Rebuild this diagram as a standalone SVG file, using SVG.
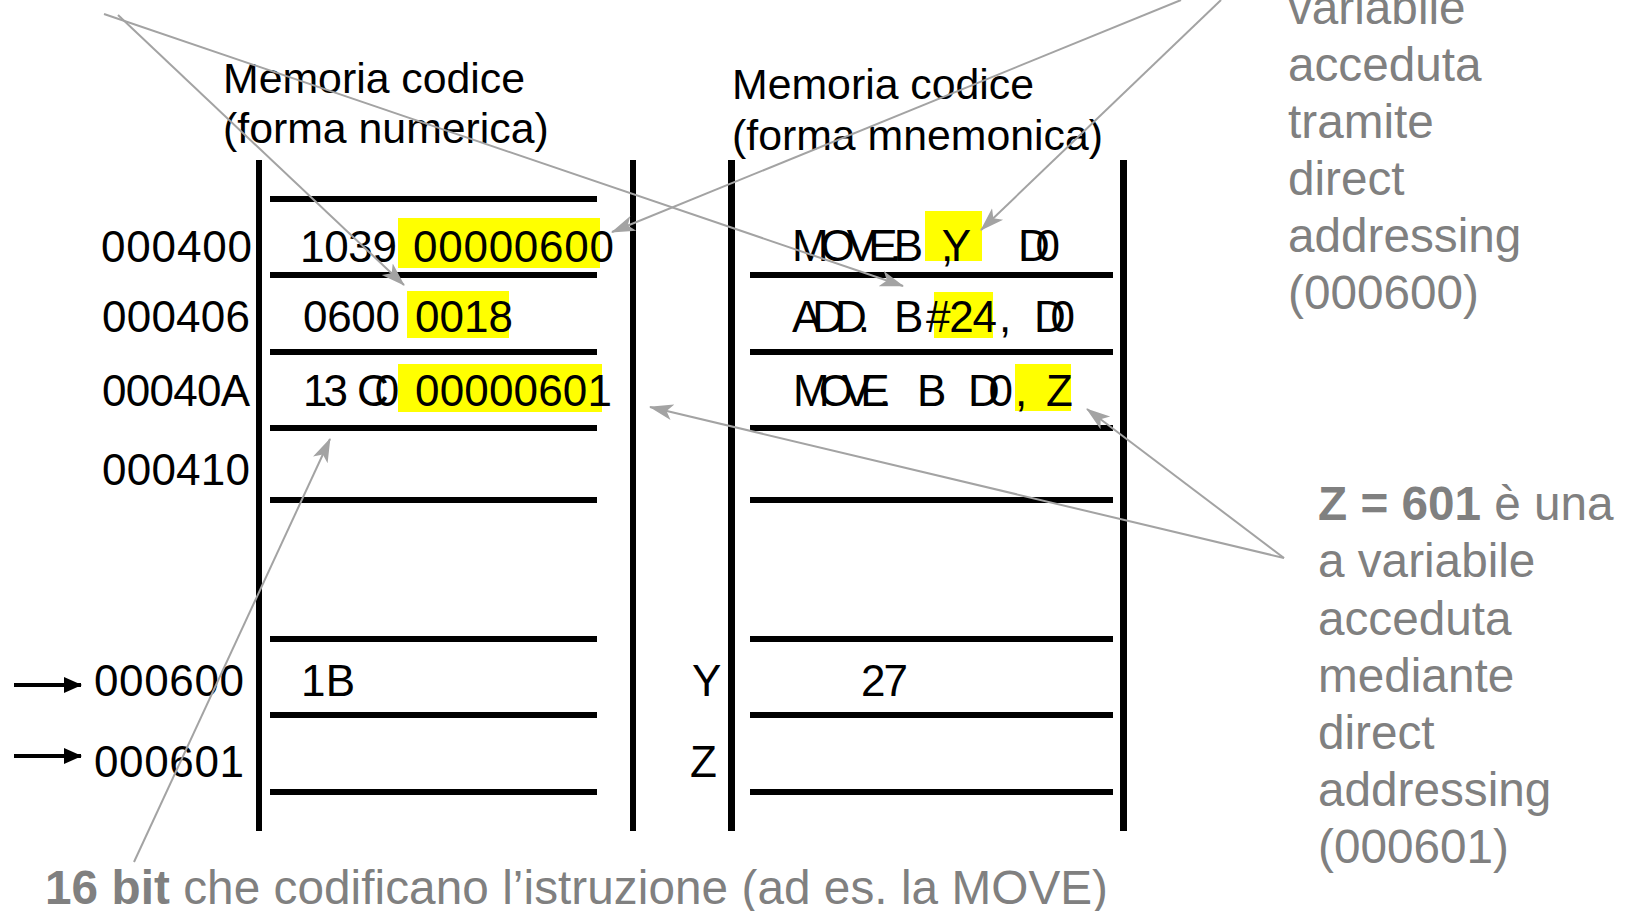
<svg xmlns="http://www.w3.org/2000/svg" width="1629" height="911" viewBox="0 0 1629 911">
<style>
.t{font-family:"Liberation Sans",Arial,sans-serif;fill:#000}
.title{font-size:42.8px}
.mono{font-size:44px}
.g{font-family:"Liberation Sans",Arial,sans-serif;fill:#808080;font-size:47.7px}
.b{font-weight:bold}
.bar{fill:#000}
.hl{fill:#ffff00}
.conn{stroke:#a3a3a3;stroke-width:2;fill:none;marker-end:url(#ah)}
</style>
<defs>
<marker id="ah" markerUnits="userSpaceOnUse" markerWidth="24" markerHeight="18" viewBox="0 0 24 18" refX="23" refY="9" orient="auto">
<path d="M0,1 L24,9 L0,17 L6,9 Z" fill="#a3a3a3"/>
</marker>
<marker id="bh" markerUnits="userSpaceOnUse" markerWidth="18" markerHeight="16" viewBox="0 0 18 16" refX="17" refY="8" orient="auto">
<path d="M0,0 L18,8 L0,16 Z" fill="#000"/>
</marker>
</defs>
<rect width="1629" height="911" fill="#fff"/>

<g id="left-memory">
<rect class="bar" x="256" y="160" width="6" height="671"/>
<rect class="bar" x="630" y="160" width="6" height="671"/>
<rect class="bar" x="270" y="196" width="327" height="6"/>
<rect class="bar" x="270" y="272" width="327" height="6"/>
<rect class="bar" x="270" y="349" width="327" height="6"/>
<rect class="bar" x="270" y="425" width="327" height="6"/>
<rect class="bar" x="270" y="497" width="327" height="6"/>
<rect class="bar" x="270" y="636" width="327" height="6"/>
<rect class="bar" x="270" y="712" width="327" height="6"/>
<rect class="bar" x="270" y="789" width="327" height="6"/>
<rect class="hl" x="398" y="218" width="202" height="50"/>
<rect class="hl" x="407" y="291" width="102" height="47"/>
<rect class="hl" x="398" y="364" width="204" height="48"/>
<text class="t title" x="223" y="93">Memoria codice</text>
<text class="t title" x="223" y="143">(forma numerica)</text>
<text class="t mono" x="300" y="262" textLength="97">1039</text>
<text class="t mono" x="413" y="262" textLength="201">00000600</text>
<text class="t mono" x="303" y="332" textLength="97">0600</text>
<text class="t mono" x="415" y="332" textLength="98">0018</text>
<text class="t mono" y="406"><tspan x="303" textLength="45">13</tspan><tspan x="357" letter-spacing="-14">C0</tspan></text>
<text class="t mono" x="415" y="406" textLength="197">00000601</text>
<text class="t mono" x="301" y="696" textLength="54">1B</text>
</g>

<g id="addresses">
<text class="t mono" x="101" y="262" textLength="151">000400</text>
<text class="t mono" x="102" y="332" textLength="148">000406</text>
<text class="t mono" x="102" y="406" textLength="148">00040A</text>
<text class="t mono" x="102" y="485" textLength="148">000410</text>
<text class="t mono" x="94" y="696" textLength="150">000600</text>
<text class="t mono" x="94" y="777" textLength="150">000601</text>
<line x1="14" y1="685" x2="81" y2="685" stroke="#000" stroke-width="4" marker-end="url(#bh)"/>
<line x1="14" y1="756" x2="81" y2="756" stroke="#000" stroke-width="4" marker-end="url(#bh)"/>
</g>

<g id="right-memory">
<rect class="bar" x="728" y="160" width="7" height="671"/>
<rect class="bar" x="1120" y="160" width="7" height="671"/>
<rect class="bar" x="750" y="272" width="363" height="6"/>
<rect class="bar" x="750" y="349" width="363" height="6"/>
<rect class="bar" x="750" y="425" width="363" height="6"/>
<rect class="bar" x="750" y="497" width="363" height="6"/>
<rect class="bar" x="750" y="636" width="363" height="6"/>
<rect class="bar" x="750" y="712" width="363" height="6"/>
<rect class="bar" x="750" y="789" width="363" height="6"/>
<rect class="hl" x="925" y="211" width="57" height="50"/>
<rect class="hl" x="934" y="292" width="59" height="46"/>
<rect class="hl" x="1015" y="364" width="56" height="47"/>
<text class="t title" x="732" y="99">Memoria codice</text>
<text class="t title" x="732" y="150">(forma mnemonica)</text>
<text class="t mono" y="261"><tspan x="792" textLength="131">MOVE.B</tspan><tspan x="941" textLength="30">,Y</tspan><tspan x="1018" textLength="42">D0</tspan></text>
<text class="t mono" y="332"><tspan x="792" textLength="78">ADD.</tspan><tspan x="894" textLength="25">B</tspan><tspan x="926" textLength="71">#24</tspan><tspan x="999">,</tspan><tspan x="1034" textLength="41">D0</tspan></text>
<text class="t mono" y="406"><tspan x="793" textLength="98">MOVE.</tspan><tspan x="917" textLength="25">B</tspan><tspan x="968" textLength="45">D0</tspan><tspan x="1015">,</tspan><tspan x="1046" textLength="24">Z</tspan></text>
<text class="t mono" x="692" y="696">Y</text>
<text class="t mono" x="690" y="777">Z</text>
<text class="t mono" x="861" y="696" textLength="47">27</text>
</g>

<g id="note-y">
<text class="g" x="1288" y="24">variabile</text>
<text class="g" x="1288" y="81">acceduta</text>
<text class="g" x="1288" y="138">tramite</text>
<text class="g" x="1288" y="195">direct</text>
<text class="g" x="1288" y="252">addressing</text>
<text class="g" x="1288" y="309">(000600)</text>
</g>

<g id="note-z">
<text class="g" x="1318" y="520"><tspan class="b">Z = 601</tspan> è una</text>
<text class="g" x="1318" y="577">a variabile</text>
<text class="g" x="1318" y="635">acceduta</text>
<text class="g" x="1318" y="692">mediante</text>
<text class="g" x="1318" y="749">direct</text>
<text class="g" x="1318" y="806">addressing</text>
<text class="g" x="1318" y="863">(000601)</text>
</g>

<g id="note-16bit">
<text class="g" x="45" y="904" textLength="1063"><tspan class="b">16 bit</tspan> che codificano l’istruzione (ad es. la MOVE)</text>
</g>

<g id="connectors">
<line class="conn" x1="118" y1="15" x2="404" y2="285"/>
<line class="conn" x1="104" y1="14" x2="903" y2="286"/>
<line class="conn" x1="1181" y1="0" x2="612" y2="232"/>
<line class="conn" x1="1221" y1="0" x2="981" y2="230"/>
<line class="conn" x1="1284" y1="558" x2="650" y2="407"/>
<line class="conn" x1="1284" y1="558" x2="1087" y2="409"/>
<line class="conn" x1="134" y1="862" x2="330" y2="439"/>
</g>
</svg>
